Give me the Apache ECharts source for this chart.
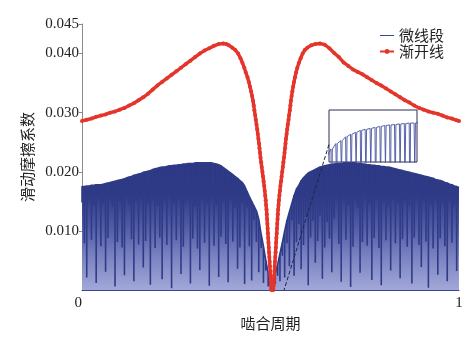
<!DOCTYPE html>
<html>
<head>
<meta charset="utf-8">
<script src="https://cdn.jsdelivr.net/npm/echarts@6/dist/echarts.min.js"></script>
<style>
  html, body { margin: 0; padding: 0; background: #fff; }
  #chart { width: 474px; height: 340px; }
</style>
</head>
<body>
<div id="chart"></div>
<script>
// Micro-segment profile: plateau value of every mesh segment (segment edges at i/N)
const segPeak = [
  0.0175,0.0175,0.0176,0.0176,0.0177,0.0177,0.0178,0.0178,0.0178,0.0179,
  0.0180,0.0181,0.0182,0.0183,0.0184,0.0185,0.0186,0.0187,0.0188,0.0190,
  0.0191,0.0192,0.0194,0.0195,0.0196,0.0197,0.0199,0.0200,0.0201,0.0202,
  0.0204,0.0205,0.0206,0.0207,0.0208,0.0208,0.0209,0.0210,0.0210,0.0211,
  0.0211,0.0212,0.0212,0.0213,0.0213,0.0214,0.0214,0.0214,0.0215,0.0215,
  0.0215,0.0215,0.0215,0.0215,0.0215,0.0215,0.0214,0.0213,0.0212,0.0210,
  0.0207,0.0204,0.0201,0.0198,0.0195,0.0192,0.0189,0.0185,0.0182,0.0176,
  0.0167,0.0158,0.0150,0.0142,0.0134,0.0120,0.0095,0.0074,0.0050,0.0028,
  0.0006,0.0012,0.0028,0.0043,0.0062,0.0080,0.0100,0.0118,0.0132,0.0146,
  0.0160,0.0171,0.0177,0.0185,0.0190,0.0194,0.0198,0.0200,0.0202,0.0204,
  0.0206,0.0208,0.0209,0.0210,0.0211,0.0212,0.0213,0.0213,0.0214,0.0214,
  0.0214,0.0215,0.0215,0.0215,0.0215,0.0215,0.0215,0.0214,0.0214,0.0213,
  0.0213,0.0212,0.0212,0.0211,0.0211,0.0210,0.0210,0.0209,0.0209,0.0208,
  0.0208,0.0207,0.0206,0.0205,0.0204,0.0203,0.0202,0.0201,0.0200,0.0199,
  0.0198,0.0197,0.0196,0.0195,0.0194,0.0193,0.0192,0.0191,0.0190,0.0189,
  0.0187,0.0186,0.0185,0.0184,0.0182,0.0181,0.0179,0.0178,0.0176,0.0175,
  0.0173
];
// Minimum reached at each segment joint
const segDip = [
  0.0148,0.0079,0.0021,0.0152,0.0085,0.0143,0.0012,0.0157,0.0074,0.0146,
  0.0031,0.0088,0.0154,0.0141,0.0006,0.0081,0.0149,0.0072,0.0025,0.0158,
  0.0144,0.0086,0.0015,0.0151,0.0077,0.0160,0.0038,0.0083,0.0147,0.0009,
  0.0155,0.0071,0.0142,0.0089,0.0018,0.0150,0.0076,0.0159,0.0003,0.0145,
  0.0084,0.0153,0.0027,0.0073,0.0148,0.0156,0.0011,0.0087,0.0141,0.0070,
  0.0034,0.0152,0.0080,0.0146,0.0007,0.0159,0.0075,0.0143,0.0022,0.0090,
  0.0149,0.0078,0.0013,0.0154,0.0082,0.0140,0.0036,0.0072,0.0147,0.0010,
  0.0139,0.0074,0.0016,0.0118,0.0081,0.0030,0.0071,0.0012,0.0033,0.0006,
  0.0000,0.0004,0.0010,0.0024,0.0015,0.0058,0.0021,0.0079,0.0040,0.0118,
  0.0024,0.0081,0.0112,0.0035,0.0076,0.0124,0.0008,0.0089,0.0117,0.0046,
  0.0083,0.0126,0.0019,0.0072,0.0115,0.0087,0.0030,0.0121,0.0150,0.0078,
  0.0014,0.0157,0.0085,0.0144,0.0005,0.0073,0.0152,0.0139,0.0029,0.0081,
  0.0158,0.0075,0.0145,0.0017,0.0088,0.0153,0.0071,0.0008,0.0148,0.0084,
  0.0141,0.0033,0.0156,0.0079,0.0147,0.0020,0.0086,0.0151,0.0073,0.0142,
  0.0011,0.0089,0.0155,0.0076,0.0039,0.0149,0.0082,0.0004,0.0144,0.0070,
  0.0153,0.0026,0.0087,0.0146,0.0074,0.0015,0.0150,0.0080,0.0143,0.0032
];

// Involute profile: mesh position and friction coefficient
const redX = [
  0.0000,0.0125,0.0250,0.0375,0.0500,0.0625,0.0750,0.0875,0.1000,0.1125,
  0.1250,0.1375,0.1500,0.1625,0.1750,0.1875,0.2000,0.2125,0.2250,0.2375,
  0.2500,0.2625,0.2750,0.2875,0.3000,0.3125,0.3250,0.3375,0.3500,0.3625,
  0.3748,0.3828,0.3894,0.3987,0.4066,0.4141,0.4204,0.4257,0.4305,0.4345,
  0.4390,0.4425,0.4456,0.4486,0.4512,0.4536,0.4555,0.4573,0.4592,0.4610,
  0.4629,0.4647,0.4663,0.4679,0.4695,0.4708,0.4722,0.4735,0.4751,0.4767,
  0.4785,0.4801,0.4817,0.4833,0.4846,0.4860,0.4873,0.4883,0.4894,0.4902,
  0.4909,0.4917,0.4924,0.4931,0.4939,0.4947,0.4954,0.4961,0.4969,0.4977,
  0.4984,0.4991,0.4999,0.5007,0.5014,0.5021,
  0.5075,0.5082,0.5089,0.5097,0.5105,0.5112,0.5119,0.5127,0.5135,0.5142,
  0.5149,0.5157,0.5165,0.5172,0.5179,0.5187,0.5194,0.5202,0.5213,0.5223,
  0.5236,0.5250,0.5263,0.5279,0.5295,0.5311,0.5327,0.5342,0.5358,0.5372,
  0.5385,0.5398,0.5411,0.5427,0.5443,0.5459,0.5478,0.5494,0.5512,0.5528,
  0.5541,0.5560,0.5579,0.5600,0.5624,0.5650,0.5679,0.5711,0.5751,0.5799,
  0.5852,0.5910,0.5977,0.6083,0.6189,0.6313,0.6438,0.6563,0.6688,0.6813,
  0.6938,0.7063,0.7188,0.7313,0.7438,0.7563,0.7688,0.7813,0.7938,0.8063,
  0.8188,0.8313,0.8438,0.8563,0.8688,0.8813,0.8938,0.9063,0.9188,0.9313,
  0.9438,0.9563,0.9688,0.9813,0.9938,1.0000
];
const redY = [
  0.0286,0.0288,0.0290,0.0293,0.0295,0.0297,0.0300,0.0302,0.0305,0.0308,
  0.0312,0.0316,0.0321,0.0326,0.0332,0.0339,0.0346,0.0352,0.0358,0.0364,
  0.0370,0.0376,0.0382,0.0388,0.0394,0.0400,0.0405,0.0409,0.0413,0.0416,
  0.0417,0.0416,0.0414,0.0410,0.0406,0.0400,0.0392,0.0384,0.0376,0.0368,
  0.0360,0.0352,0.0344,0.0336,0.0328,0.0320,0.0312,0.0304,0.0296,0.0288,
  0.0280,0.0272,0.0264,0.0256,0.0248,0.0240,0.0232,0.0224,0.0216,0.0208,
  0.0200,0.0192,0.0184,0.0176,0.0168,0.0160,0.0152,0.0144,0.0136,0.0128,
  0.0120,0.0112,0.0104,0.0096,0.0088,0.0080,0.0072,0.0064,0.0056,0.0048,
  0.0040,0.0032,0.0024,0.0016,0.0008,0.0000,
  0.0000,0.0008,0.0016,0.0024,0.0032,0.0040,0.0048,0.0056,0.0064,0.0072,
  0.0080,0.0088,0.0096,0.0104,0.0112,0.0120,0.0128,0.0136,0.0144,0.0152,
  0.0160,0.0168,0.0176,0.0184,0.0192,0.0200,0.0208,0.0216,0.0224,0.0232,
  0.0240,0.0248,0.0256,0.0264,0.0272,0.0280,0.0288,0.0296,0.0304,0.0312,
  0.0320,0.0328,0.0336,0.0344,0.0352,0.0360,0.0368,0.0376,0.0384,0.0392,
  0.0400,0.0406,0.0410,0.0414,0.0416,0.0417,0.0415,0.0409,0.0401,0.0394,
  0.0385,0.0379,0.0373,0.0369,0.0365,0.0360,0.0355,0.0350,0.0346,0.0341,
  0.0336,0.0331,0.0326,0.0321,0.0317,0.0312,0.0308,0.0305,0.0302,0.0300,
  0.0298,0.0295,0.0292,0.0290,0.0287,0.0286
];

const yTicks = [0.010, 0.020, 0.030, 0.040, 0.045];
const seriesNames = ['微线段', '渐开线'];

// Magnified window shown in the inset, and the dashed leader to it
const insetX = [0.5600, 0.6725];
const insetY = [0.01335, 0.02395];
const zoomLink = [[0.655, 0.0246], [0.536, 0]];

// Segment polyline: plateau, narrow dip at the joint, back to the plateau
function buildSegments(notch) {
  const n = segDip.length;
  const pts = [];
  for (let i = 0; i < n; i++) {
    const x0 = i / n;
    pts.push([x0, segPeak[i]], [x0 + notch, segDip[i]], [x0 + 2 * notch, segPeak[i]]);
  }
  pts.push([1, segPeak[n]]);
  return pts;
}
const microMain = buildSegments(0.0001);
const microInset = buildSegments(0.0009);
const involute = redX.map((x, i) => [x, redY[i]]);

const serif = 'Liberation Serif';
const cjk = 'Noto Sans CJK SC';
const navy = '#2f3b87';
const red = '#e5352b';

const chart = echarts.init(document.getElementById('chart'), null, { renderer: 'canvas' });
chart.setOption({
  animation: false,
  backgroundColor: '#fff',
  legend: {
    data: [
      { name: seriesNames[0], itemStyle: { color: 'rgba(0,0,0,0)', borderWidth: 0 }, lineStyle: { width: 1, color: '#3a4796' } },
      { name: seriesNames[1] }
    ],
    orient: 'vertical',
    left: 374,
    top: 23,
    itemGap: 1,
    itemWidth: 14,
    itemHeight: 6,
    textStyle: { fontFamily: cjk, fontSize: 15, color: '#222' }
  },
  grid: [
    { left: 82, right: 15, top: 24, bottom: 50 },
    { left: 329, top: 110, width: 88, height: 52, show: true, borderColor: '#2a2f55', borderWidth: 1, backgroundColor: '#fff' }
  ],
  xAxis: [
    {
      type: 'value', min: 0, max: 1, interval: 1,
      name: '啮合周期', nameLocation: 'middle', nameGap: 21,
      nameTextStyle: { fontFamily: cjk, fontSize: 15, color: '#222' },
      axisLine: { show: true, lineStyle: { color: '#3a4590' } },
      axisTick: { show: false },
      splitLine: { show: false },
      axisLabel: { fontFamily: serif, fontSize: 15, color: '#222', margin: 6, alignMinLabel: 'right' }
    },
    { type: 'value', gridIndex: 1, min: insetX[0], max: insetX[1], show: false }
  ],
  yAxis: [
    {
      type: 'value', min: 0, max: 0.045,
      name: '滑动摩擦系数', nameLocation: 'middle', nameGap: 44, nameRotate: 90,
      nameTextStyle: { fontFamily: cjk, fontSize: 15, color: '#222' },
      axisLine: { show: true, lineStyle: { color: '#8a8a8a' } },
      axisTick: { show: true, customValues: yTicks, length: 3, lineStyle: { color: '#8a8a8a' } },
      axisLabel: {
        customValues: yTicks,
        formatter: v => v.toFixed(3),
        fontFamily: serif, fontSize: 15, color: '#222', margin: 3
      },
      splitLine: { show: false }
    },
    { type: 'value', gridIndex: 1, min: insetY[0], max: insetY[1], show: false }
  ],
  series: [
    {
      name: seriesNames[0],
      type: 'line',
      data: microMain,
      symbol: 'none',
      lineStyle: { color: navy, width: 1.6, join: 'bevel' },
      itemStyle: { color: navy },
      areaStyle: {
        opacity: 1,
        color: {
          type: 'linear', x: 0, y: 0, x2: 0, y2: 1,
          colorStops: [
            { offset: 0, color: '#2a3582' },
            { offset: 0.25, color: '#2f3b87' },
            { offset: 0.5, color: '#505ba4' },
            { offset: 0.75, color: '#7c84c2' },
            { offset: 1, color: '#a2a8d8' }
          ]
        }
      },
      markLine: {
        silent: true,
        symbol: ['none', 'none'],
        label: { show: false },
        lineStyle: { type: 'dashed', color: '#1f2550', width: 1 },
        data: [[{ coord: zoomLink[0] }, { coord: zoomLink[1] }]]
      },
      z: 2
    },
    {
      name: seriesNames[0],
      type: 'line',
      xAxisIndex: 1,
      yAxisIndex: 1,
      data: microInset,
      symbol: 'none',
      clip: true,
      lineStyle: { color: '#4652a0', width: 0.9 },
      itemStyle: { color: navy },
      z: 4
    },
    {
      name: seriesNames[1],
      type: 'line',
      data: involute,
      symbol: 'circle',
      symbolSize: 4,
      showSymbol: true,
      lineStyle: { color: red, width: 3.4 },
      itemStyle: { color: red },
      z: 3
    }
  ]
});
</script>
</body>
</html>
